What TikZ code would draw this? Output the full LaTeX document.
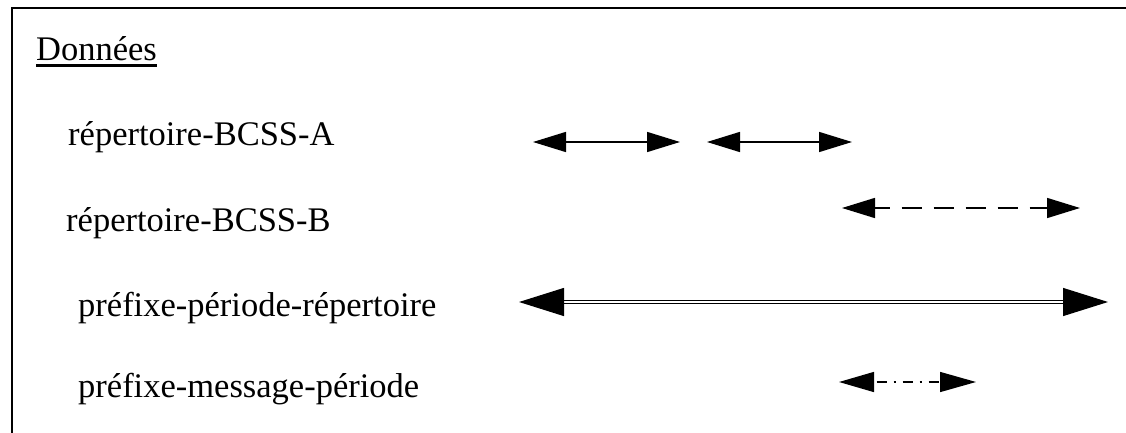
\documentclass[tikz,border=0pt]{standalone}
\usepackage{fontspec}
\setmainfont{Liberation Serif}
\usetikzlibrary{arrows.meta,calc}
\begin{document}
\begin{tikzpicture}[x=1pt,y=-1pt,
  lbl/.style={anchor=base west,inner sep=0pt,font=\fontsize{34.5}{40}\selectfont},
  smallarr/.style={line width=1.5pt,{Triangle[length=33pt,width=20pt]}-{Triangle[length=33pt,width=20pt]}},
  dasharr/.style={smallarr,dash pattern=on 20pt off 12pt,dash phase=5pt},
  dotarr/.style={line width=1.4pt,{Triangle[length=35pt,width=20pt]}-{Triangle[length=36pt,width=20pt]},dash pattern=on 10pt off 7pt on 2pt off 7pt,dash phase=-3pt},
  dblarr/.style={line width=1.2pt,double distance=2.2pt,{Triangle[length=45pt,width=28pt]}-{Triangle[length=45pt,width=28pt]}}]
\useasboundingbox (0,0) rectangle (1126,433);
% frame
\coordinate (fl) at (12,433);
\coordinate (ftl) at (12,8);
\coordinate (ftr) at (1130,8);
\draw[line width=2pt,line cap=rect] (fl) -- (ftl) -- (ftr);
% labels
\node[lbl] (don) at (36,61) {Données};
\draw[line width=2.2pt] ($(don.base west)+(0,4.5)$) -- ($(don.base east)+(0,4.5)$);
\node[lbl] (ra) at (68,146) {répertoire-BCSS-A};
\node[lbl] (rb) at (66,231) {répertoire-BCSS-B};
\node[lbl] (ppr) at (78,316) {préfixe-période-répertoire};
\node[lbl] (pmp) at (78,397) {préfixe-message-période};
% arrows
\coordinate (a1) at (533,142); \coordinate (a2) at (680,142);
\coordinate (a3) at (707,142); \coordinate (a4) at (852,142);
\draw[smallarr] (a1) -- (a2);
\draw[smallarr] (a3) -- (a4);
\coordinate (b1) at (842,208); \coordinate (b2) at (1080,208);
\draw[dasharr] (b1) -- (b2);
\coordinate (c1) at (519,302); \coordinate (c2) at (1108,302);
\draw[dblarr] (c1) -- (c2);
\coordinate (d1) at (839,382); \coordinate (d2) at (976,382);
\draw[dotarr] (d1) -- (d2);
\end{tikzpicture}
\end{document}
